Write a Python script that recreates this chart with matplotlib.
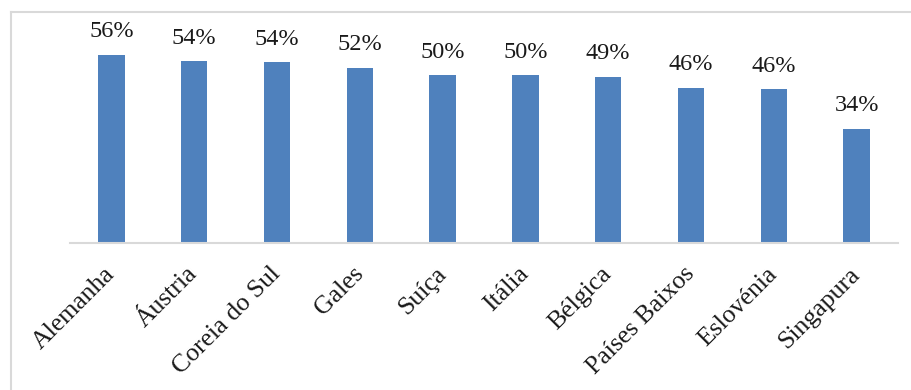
import matplotlib.pyplot as plt
from matplotlib.lines import Line2D

# Share of respondents per country
countries = ["Alemanha", "Áustria", "Coreia do Sul", "Gales", "Suíça",
             "Itália", "Bélgica", "Países Baixos", "Eslovénia", "Singapura"]
shares = [56.0, 54.0, 53.8, 52.1, 49.8, 49.8, 49.4, 46.1, 45.7, 33.9]

plt.rcParams['font.family'] = ['Liberation Serif', 'DejaVu Serif']

fig = plt.figure(figsize=(9.12, 3.90), dpi=100)
ax = fig.add_axes([70 / 912, 1 - 243 / 390, 828 / 912, 222 / 390])

x = range(len(countries))
ax.bar(x, shares, width=0.32, color='#4F81BD', zorder=2)

for i, v in enumerate(shares):
    ax.annotate(f"{v:.0f}%", (i, v), xytext=(0, 9), textcoords='offset points',
                ha='center', va='bottom', fontsize=17.5, color='#1a1a1a')

ax.set_xlim(-0.5, len(countries) - 0.5)
ax.set_ylim(0, 66)
ax.set_xticks(list(x))
ax.set_xticklabels(countries, rotation=45, ha='right', va='center',
                   rotation_mode='anchor', fontsize=18.5, color='#1a1a1a')
ax.tick_params(axis='x', length=0, pad=20)
ax.set_yticks([])
for side in ['top', 'right', 'left']:
    ax.spines[side].set_visible(False)
ax.spines['bottom'].set_color('#D9D9D9')
ax.spines['bottom'].set_linewidth(1.5)

# light frame lines on the left and top of the chart area
frame = dict(transform=fig.transFigure, color='#D9D9D9', linewidth=1.5)
fig.lines.append(Line2D([11 / 912, 11 / 912], [0, 1 - 12 / 390], **frame))
fig.lines.append(Line2D([11 / 912, 1], [1 - 12 / 390, 1 - 12 / 390], **frame))

fig.savefig('out.png', dpi=100)
